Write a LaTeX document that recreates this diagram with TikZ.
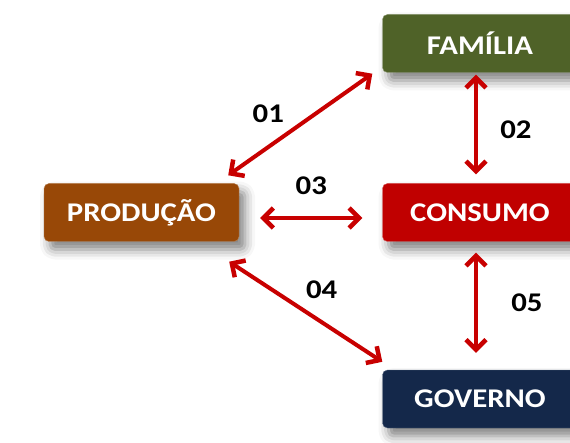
\documentclass[tikz,border=0pt]{standalone}
\usepackage{fontspec}
\setmainfont{Carlito}
\newfontfamily\boxfont[FakeStretch=1.14]{Carlito}
\usepackage{tikz}
\usetikzlibrary{arrows,arrows.meta,shadows.blur}

\definecolor{familia}{HTML}{4F6228}
\definecolor{producao}{HTML}{984807}
\definecolor{consumo}{HTML}{C00000}
\definecolor{governo}{HTML}{14284A}
\definecolor{seta}{HTML}{C80000}

\tikzset{
	box/.style={rounded corners=5pt, minimum width=195pt, minimum height=58pt,
		text=white, font=\boxfont\bfseries\fontsize{27}{30}\selectfont,
		blur shadow={shadow xshift=6pt, shadow yshift=-8pt, shadow blur radius=10pt, shadow opacity=50}},
	seta/.style={{Straight Barb[length=10pt,width=20pt,line width=4.5pt]}-{Straight Barb[length=10pt,width=20pt,line width=4.5pt]},
		line width=4pt, color=seta},
	num/.style={font=\boxfont\bfseries\fontsize{27}{30}\selectfont, text=black}
}

\begin{document}
\begin{tikzpicture}[x=1pt,y=-1pt]
	\useasboundingbox (0,0) rectangle (570,443);
	\node[box,fill=producao,draw=producao!70!white] (A) at (141.5,212.5) {PRODUÇÃO};
	\node[box,fill=familia,draw=familia!70!white] (B) at (480,43.5) {FAMÍLIA};
	\node[box,fill=consumo,draw=consumo!70!white] (C) at (480,212.5) {CONSUMO};
	\node[box,fill=governo,draw=governo!70!white] (D) at (480,399) {GOVERNO};
	\draw[seta] ([shift={(-11,-8)}]A.north east)--([shift={(-10,1)}]B.south west) node[num,midway,above left,xshift=-11pt,yshift=-4pt] {01};
	\draw[seta] ([shift={(-4,2)}]B.south)--([shift={(-4,-9)}]C.north) node[num,midway,right,xshift=19pt,yshift=-5pt] {02};
	\draw[seta] ([shift={(21,5.5)}]A.east)--([shift={(-20,5.5)}]C.west) node[num,midway,above,yshift=18pt] {03};
	\draw[seta] ([shift={(-10,20)}]A.south east)--([shift={(0,-8)}]D.north west) node[num,midway,above right,xshift=-5pt,yshift=8pt] {04};
	\draw[seta] ([shift={(-4,11)}]C.south)--([shift={(-4,-17)}]D.north) node[num,midway,right,xshift=30pt] {05};
\end{tikzpicture}
\end{document}
